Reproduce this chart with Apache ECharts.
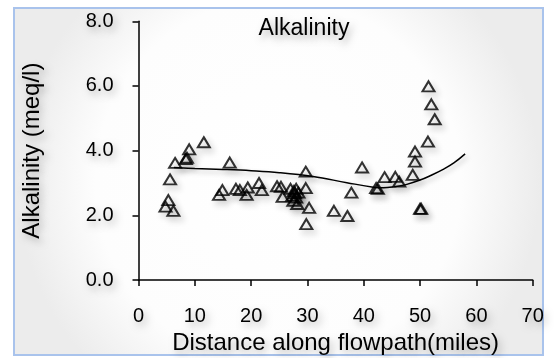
<!DOCTYPE html>
<html>
<head>
<meta charset="utf-8">
<script src="https://cdn.jsdelivr.net/npm/echarts@6/dist/echarts.min.js"></script>
<style>html,body{margin:0;padding:0;background:#fff}#c{width:554px;height:358px}</style>
</head>
<body>
<div id="c"></div>
<script>
var title = 'Alkalinity';
var xName = 'Distance along flowpath(miles)';
var yName = 'Alkalinity (meq/l)';
var distance = [4.8,5.3,5.6,6.2,6.5,8.4,8.6,9.0,11.6,14.3,14.9,16.2,17.3,18.0,19.2,19.4,21.4,21.9,24.6,25.3,25.6,27.0,27.3,27.5,27.6,27.8,28.0,28.0,28.2,28.4,29.7,29.7,30.3,29.8,34.7,37.1,37.8,39.7,42.2,42.5,43.7,45.6,46.3,48.7,49.1,49.1,50.0,50.2,51.4,51.5,52.0,52.6];
var alkalinity = [2.27,2.47,3.11,2.14,3.62,3.74,3.78,4.04,4.26,2.63,2.78,3.63,2.82,2.78,2.63,2.86,3.0,2.78,2.9,2.88,2.57,2.82,2.6,2.45,2.75,2.68,2.55,2.82,2.35,2.7,3.35,2.84,2.23,1.73,2.14,1.98,2.7,3.48,2.84,2.82,3.18,3.19,3.04,3.25,3.66,3.97,2.2,2.2,4.28,5.99,5.43,4.97];
var trendX = [6.3,10,15,20,25,31,37,41.7,43.5,45.3,47.5,50,52,54.1,56,58];
var trendY = [3.48,3.45,3.42,3.38,3.32,3.2,3.01,2.87,2.85,2.88,2.95,3.09,3.24,3.42,3.62,3.9];
var xTicks = [0,10,20,30,40,50,60,70];
var yTicks = [0,2,4,6,8];

var FONT = 'Liberation Sans, Arial, sans-serif';
var shadowText = {textShadowColor:'rgba(0,0,0,0.28)', textShadowBlur:7, textShadowOffsetX:3, textShadowOffsetY:4};
function zip(a,b){return a.map(function(v,i){return [v,b[i]];});}

var chart = echarts.init(document.getElementById('c'), null, {renderer:'canvas'});
chart.setOption({
  backgroundColor:'#ffffff',
  animation:false,
  graphic:[{
    type:'rect', z:-10, silent:true,
    shape:{x:14,y:8,width:529,height:347},
    style:{
      fill:{type:'radial',x:0.5,y:0.5,r:0.75,colorStops:[{offset:0,color:'#ffffff'},{offset:0.7,color:'#fdfdfd'},{offset:1,color:'#ececec'}]},
      stroke:'#a9c3ec', lineWidth:2
    }
  }],
  title:{
    text:title, left:299, top:12, textAlign:'center',
    textStyle:Object.assign({fontFamily:FONT,fontSize:23,fontWeight:'normal',color:'#000'},shadowText)
  },
  grid:{left:138.5,right:21.3,top:21.3,bottom:78,containLabel:false,outerBoundsMode:'none'},
  xAxis:{
    type:'value', min:0, max:70, interval:10,
    name:xName, nameLocation:'middle', nameGap:48,
    nameTextStyle:Object.assign({fontFamily:FONT,fontSize:24,color:'#000'},shadowText),
    axisLine:{show:true,onZero:false,lineStyle:{color:'#000',width:1.5}},
    axisTick:{show:true,inside:false,length:6,lineStyle:{color:'#000',width:1.5}},
    axisLabel:Object.assign({fontFamily:FONT,fontSize:20,color:'#000',margin:26,
      formatter:function(v){return xTicks.indexOf(v)>=0?String(v):'';}},shadowText),
    splitLine:{show:false}
  },
  yAxis:{
    type:'value', min:0, max:8, interval:2,
    name:yName, nameLocation:'middle', nameGap:94, nameRotate:90,
    nameTextStyle:Object.assign({fontFamily:FONT,fontSize:24,color:'#000'},shadowText),
    axisLine:{show:true,onZero:false,lineStyle:{color:'#000',width:1.5}},
    axisTick:{show:true,inside:false,length:6,lineStyle:{color:'#000',width:1.5}},
    axisLabel:Object.assign({fontFamily:FONT,fontSize:20,color:'#000',margin:25,
      formatter:function(v){return yTicks.indexOf(v)>=0?v.toFixed(1):'';}},shadowText),
    splitLine:{show:false}
  },
  series:[{
    type:'line', data:zip(trendX,trendY), smooth:0.4, showSymbol:false, symbol:'none',
    lineStyle:{color:'#000',width:1.5,shadowColor:'rgba(0,0,0,0.25)',shadowBlur:5,shadowOffsetX:2,shadowOffsetY:3},
    z:2
  },{
    type:'scatter', data:zip(distance,alkalinity), symbol:'triangle', symbolSize:[12,10],
    itemStyle:{color:'rgba(255,255,255,0)',borderColor:'#000',borderWidth:2,
      shadowColor:'rgba(0,0,0,0.3)',shadowBlur:6,shadowOffsetX:3,shadowOffsetY:4},
    z:3
  }]
});
</script>
</body>
</html>
